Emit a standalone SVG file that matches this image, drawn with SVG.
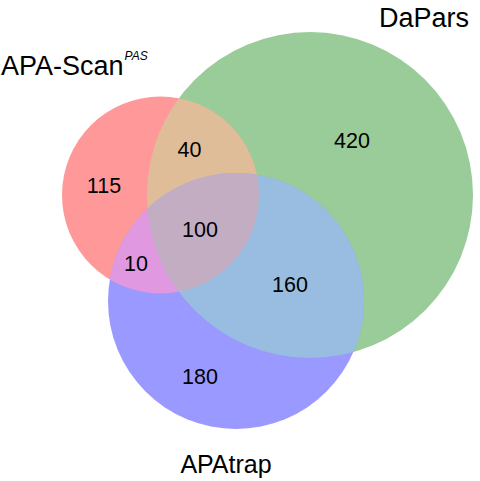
<svg xmlns="http://www.w3.org/2000/svg" width="480" height="481" viewBox="0 0 480 481">
<style>
text{font-family:"Liberation Sans",Arial,sans-serif;fill:#000}
.lab{font-size:27px}
.num{font-size:21.5px;text-anchor:middle}
.sup{font-size:12px;font-style:italic}
</style>
<defs>
<clipPath id="cR"><circle cx="160.5" cy="195" r="98.5"/></clipPath>
<clipPath id="cG"><circle cx="310" cy="195" r="163"/></clipPath>
<clipPath id="cB"><circle cx="236" cy="301" r="128"/></clipPath>
</defs>
<rect width="480" height="481" fill="#fff"/>
<g id="set-dapars"><circle cx="310" cy="195" r="163" fill="#99CC99"/></g>
<g id="set-apascan"><circle cx="160.5" cy="195" r="98.5" fill="#FF9999"/></g>
<g id="set-apatrap"><circle cx="236" cy="301" r="128" fill="#9999FF"/></g>
<g id="region-rg"><circle cx="310" cy="195" r="163" fill="#E0BD99" clip-path="url(#cR)"/></g>
<g id="region-rb"><circle cx="236" cy="301" r="128" fill="#E099E0" clip-path="url(#cR)"/></g>
<g id="region-gb"><circle cx="236" cy="301" r="128" fill="#99BDE0" clip-path="url(#cG)"/></g>
<g id="region-rgb" clip-path="url(#cB)"><circle cx="310" cy="195" r="163" fill="#C2ADC2" clip-path="url(#cR)"/></g>
<g id="connectors"/>
<g id="labels">
<text class="lab" x="1" y="75">APA-Scan<tspan class="sup" dx="1" dy="-15">PAS</tspan></text>
<text class="lab" x="424" y="27" text-anchor="middle">DaPars</text>
<text class="lab" x="226" y="473" text-anchor="middle" style="font-size:25px">APAtrap</text>
<text class="num" x="104" y="193">115</text>
<text class="num" x="189.5" y="157">40</text>
<text class="num" x="352" y="148">420</text>
<text class="num" x="200" y="237">100</text>
<text class="num" x="136" y="271">10</text>
<text class="num" x="290" y="292">160</text>
<text class="num" x="200" y="384">180</text>
</g>
</svg>
